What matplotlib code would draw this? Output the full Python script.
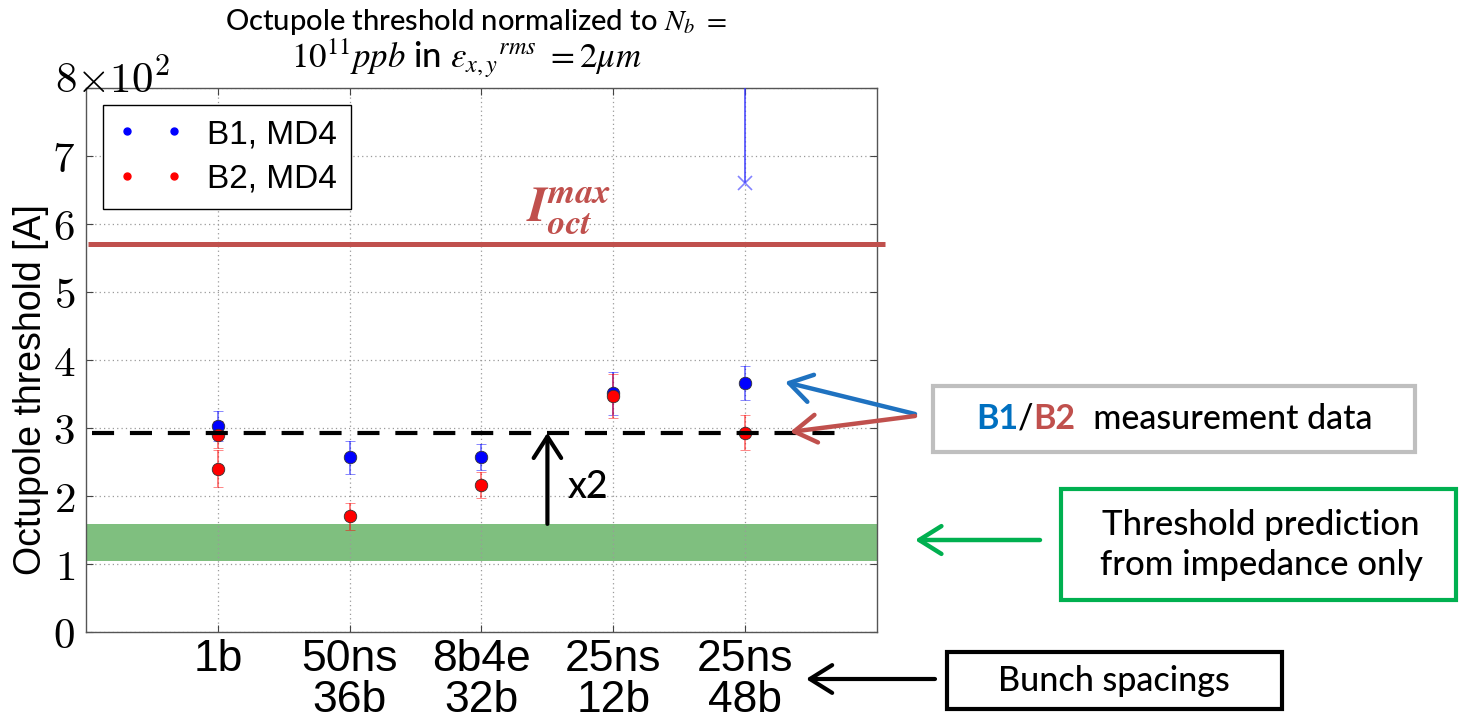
import matplotlib
matplotlib.use('Agg')
import matplotlib.pyplot as plt
from matplotlib.lines import Line2D
from matplotlib.patches import Rectangle, FancyArrowPatch
from matplotlib.offsetbox import TextArea, HPacker, AnnotationBbox

# ---------------- data ----------------
categories = ['1b', '50ns\n36b', '8b4e\n32b', '25ns\n12b', '25ns\n48b']
cat_pos = [1, 2, 3, 4, 5]

b1_x = [1, 2, 3, 4, 5]
b1_y = [303, 257, 257, 351, 366]
b1_err = [22, 24, 19, 32, 25]

b2_x = [1, 1, 2, 3, 4, 5]
b2_y = [290, 240, 170, 216, 347, 293]
b2_err = [20, 27, 20, 19, 32, 26]

b1_out_x = [5]
b1_out_y = [660]
b1_out_err_up = [250]

i_oct_max = 570
scaled_threshold = 293
pred_low, pred_high = 104, 159

yticks = [0, 100, 200, 300, 400, 500, 600, 700, 800]
ytick_labels = ['0', '1', '2', '3', '4', '5', '6', '7', '']

# ---------------- style ----------------
plt.rcParams['font.family'] = ['Liberation Sans', 'DejaVu Sans']
plt.rcParams['mathtext.fontset'] = 'cm'
CAL = dict(family='Lato', weight='medium')

W, H = 1460, 725
fig = plt.figure(figsize=(W / 100, H / 100), dpi=100)
ax = fig.add_axes([86 / W, 1 - 632 / H, (877 - 86) / W, (632 - 88) / H])

def fx(x):
    return x / W

def fy(y):
    return 1 - y / H

ax.set_xlim(0, 6)
ax.set_ylim(0, 800)

# ticks and grid
ax.set_xticks(cat_pos)
ax.set_xticklabels(categories, fontsize=32, linespacing=1.0)
ax.set_yticks(yticks)
ax.set_yticklabels(['$%s$' % t if t else '' for t in ytick_labels], fontsize=31)
ax.grid(True, color='#9a9a9a', linestyle=(0, (1, 2.5)), linewidth=0.9)
ax.tick_params(axis='both', direction='in', length=5, width=0.8, colors='#444444',
               top=True, right=True, labelcolor='black')
ax.tick_params(axis='x', pad=5)
ax.tick_params(axis='y', pad=8)
for s in ax.spines.values():
    s.set_color('#555555')
    s.set_linewidth(1.0)

# offset label 8x10^2
ax.text(fx(55), fy(80), r'$8{\times}10^2$', transform=fig.transFigure,
        fontsize=31, ha='left', va='center')

# prediction band
ax.axhspan(pred_low, pred_high, color='#7fbf7f', zorder=1, lw=0)

# octupole max line
ax.plot([0.015, 6.06], [i_oct_max, i_oct_max], color='#c0504d', lw=3.6,
        solid_capstyle='butt', clip_on=False, zorder=3)
ax.text(3.66, 620, r'$\mathbfit{I}_{\mathbfit{oct}}^{\mathbfit{max}}$', color='#c0504d',
        fontsize=36, ha='center', va='center', math_fontfamily='stix')

# data
ax.errorbar(b1_x, b1_y, yerr=b1_err, fmt='o', color='#0000ff', mec='#333333', mew=0.6,
            ms=9, ecolor=(0, 0, 1, 0.55), elinewidth=1.3, capsize=3.5, capthick=1.2, zorder=4)
ax.errorbar(b2_x, b2_y, yerr=b2_err, fmt='o', color='#ff0000', mec='#333333', mew=0.6,
            ms=9, ecolor=(1, 0, 0, 0.55), elinewidth=1.3, capsize=3.5, capthick=1.2, zorder=4)
ax.errorbar(b1_out_x, b1_out_y, yerr=[[0], b1_out_err_up], fmt='x', color=(0.3, 0.3, 1, 0.7),
            ms=10, mew=1.2, ecolor=(0.2, 0.2, 1, 0.8), elinewidth=1.3, capsize=0, zorder=4)

# dashed scaled threshold
ax.plot([0.045, 5.77], [scaled_threshold, scaled_threshold], color='black', lw=3,
        dashes=(5.3, 3.8), zorder=5)

# x2 arrow
ax.annotate('', xy=(3.5, scaled_threshold), xytext=(3.5, pred_high),
            arrowprops=dict(arrowstyle='->,head_length=0.7,head_width=0.45', lw=3,
                            color='black', shrinkA=0, shrinkB=0, mutation_scale=22),
            zorder=6)
ax.text(3.65, 213, 'x2', fontsize=27, ha='left', va='center', **CAL)

# labels
ax.set_ylabel('Octupole threshold [A]', fontsize=27)
ax.yaxis.set_label_coords((49 - 86) / 791, (632 - 390) / 544)

# legend
handles = [Line2D([], [], marker='o', ls='none', color='#0000ff', ms=5),
           Line2D([], [], marker='o', ls='none', color='#ff0000', ms=5)]
leg = ax.legend(handles, ['B1, MD4', 'B2, MD4'], numpoints=2, loc='upper left',
                bbox_to_anchor=((103 - 86) / 791, (632 - 105) / 544), borderaxespad=0,
                fontsize=24, fancybox=False, edgecolor='black', framealpha=1,
                handlelength=2.0, handletextpad=0.7, borderpad=0.42, labelspacing=0.42)
leg.get_frame().set_linewidth(1.0)

# title
fig.text(fx(476), fy(22), r'Octupole threshold normalized to $N_b$ $=$', ha='center',
         va='center', fontsize=21, math_fontfamily='stix', **CAL)
fig.text(fx(466), fy(58), r'$10^{11}ppb$ in $\varepsilon_{x,y}{}^{rms}$ $= 2\mu m$', ha='center',
         va='center', fontsize=25, math_fontfamily='stix', **CAL)

# ---------------- right-side annotations ----------------
def box(x0, y0, x1, y1, color, lw):
    fig.add_artist(Rectangle((fx(x0), fy(y1)), fx(x1) - fx(x0), fy(y0) - fy(y1),
                             transform=fig.transFigure, fill=False, ec=color, lw=lw))

def arrow(x0, y0, x1, y1, color, lw):
    fig.add_artist(FancyArrowPatch((fx(x0), fy(y0)), (fx(x1), fy(y1)),
                                   transform=fig.transFigure,
                                   arrowstyle='->,head_length=0.8,head_width=0.5',
                                   mutation_scale=20, lw=lw, color=color,
                                   shrinkA=0, shrinkB=0))

box(933, 386, 1415, 452, '#bfbfbf', 3)
fs_box = 24.5
parts = [TextArea('B1', textprops=dict(color='#0070c0', weight='bold', family='Lato', fontsize=fs_box)),
         TextArea('/', textprops=dict(color='black', fontsize=fs_box, **CAL)),
         TextArea('B2', textprops=dict(color='#c0504d', weight='bold', family='Lato', fontsize=fs_box)),
         TextArea('  measurement data', textprops=dict(color='black', fontsize=fs_box, **CAL))]
pack = HPacker(children=parts, pad=0, sep=0, align='baseline')
ab = AnnotationBbox(pack, (fx(1174), fy(419)), xycoords='figure fraction', frameon=False,
                    box_alignment=(0.5, 0.5))
fig.add_artist(ab)

box(1061, 489, 1456, 600, '#00b050', 3)
fig.text(fx(1261), fy(545), 'Threshold prediction\nfrom impedance only', ha='center',
         va='center', fontsize=25, linespacing=1.3, **CAL)

box(947, 652, 1282, 709, 'black', 3)
fig.text(fx(1114), fy(681), 'Bunch spacings', ha='center', va='center', fontsize=24.5, **CAL)

arrow(915, 414, 785, 382, '#1f72c0', 3.2)
arrow(915, 416, 790, 432, '#c0504d', 3.2)
arrow(1040, 540, 915, 540, '#00b050', 3.2)
arrow(935, 679, 806, 679, 'black', 3)

fig.savefig('out.png', dpi=100)
